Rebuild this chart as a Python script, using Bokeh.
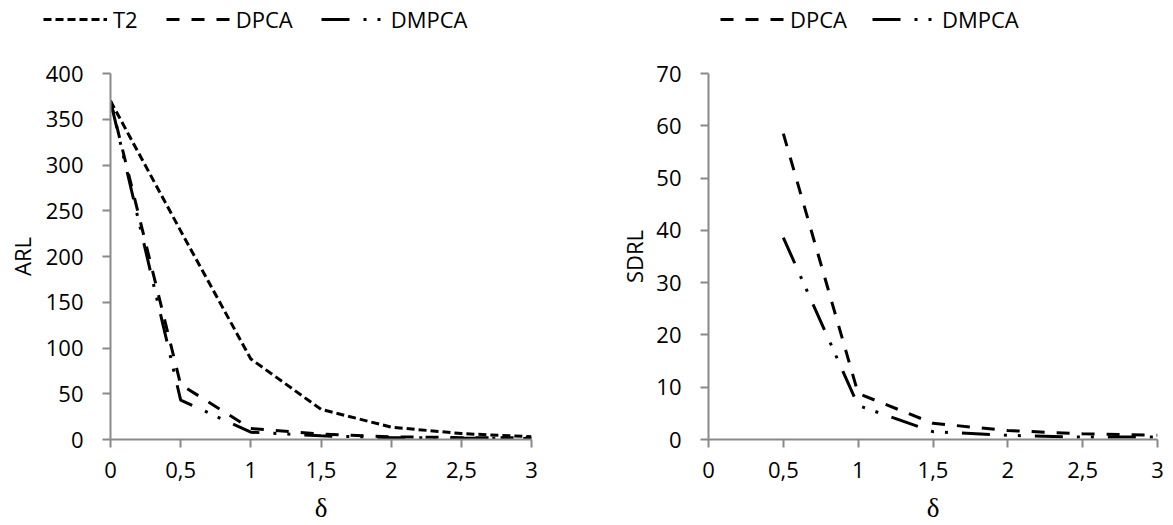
from bokeh.plotting import figure
from bokeh.layouts import row, column
from bokeh.models import Range1d, FixedTicker, Legend, LegendItem
from bokeh.embed import file_html
from bokeh.resources import INLINE

# ---- data ----
delta = [0, 0.5, 1, 1.5, 2, 2.5, 3]
arl_t2 = [370, 228, 88, 33, 13.5, 6.5, 3]
arl_dpca = [370, 60, 12, 6, 3, 2, 2]
arl_dmpca = [370, 43, 8, 4, 2, 1.5, 1]

delta_sd = [0.5, 1, 1.5, 2, 2.5, 3]
sdrl_dpca = [58.5, 8.8, 3.1, 1.7, 1.1, 0.8]
sdrl_dmpca = [38.6, 6.5, 1.5, 0.8, 0.45, 0.5]

x_ticks = [0, 0.5, 1, 1.5, 2, 2.5, 3]
x_tick_labels = ["0", "0,5", "1", "1,5", "2", "2,5", "3"]
arl_ticks = [0, 50, 100, 150, 200, 250, 300, 350, 400]
sdrl_ticks = [0, 10, 20, 30, 40, 50, 60, 70]

FONT = "Open Sans"
AX = "#898989"
T2_DASH = "8 4"
DPCA_DASH = "13 12"
DMPCA_DASH = "28 14 3 11 3 14"
LW = 3


def style(p, yticks, ylabel, ylab_standoff):
    p.xaxis.ticker = FixedTicker(ticks=x_ticks)
    p.xaxis.major_label_overrides = {t: l for t, l in zip(x_ticks, x_tick_labels)}
    p.yaxis.ticker = FixedTicker(ticks=yticks)
    for ax in (p.xaxis, p.yaxis):
        ax.axis_line_color = AX
        ax.axis_line_width = 2
        ax.major_tick_line_color = AX
        ax.major_tick_line_width = 2
        ax.major_tick_in = 0
        ax.major_tick_out = 8
        ax.minor_tick_line_color = None
        ax.major_label_text_font = FONT
        ax.major_label_text_font_size = "22px"
        ax.major_label_text_color = "black"
    p.yaxis.major_label_standoff = 19
    p.xaxis.major_label_standoff = 14
    p.yaxis.axis_label = ylabel
    p.yaxis.axis_label_text_font = FONT
    p.yaxis.axis_label_text_font_size = "22px"
    p.yaxis.axis_label_text_font_style = "normal"
    p.yaxis.axis_label_text_color = "black"
    p.yaxis.axis_label_standoff = ylab_standoff
    p.xaxis.axis_label = "δ"
    p.xaxis.axis_label_text_font = "Liberation Serif"
    p.xaxis.axis_label_text_font_size = "27px"
    p.xaxis.axis_label_text_font_style = "normal"
    p.xaxis.axis_label_text_color = "black"
    p.xaxis.axis_label_standoff = 12
    p.grid.visible = False
    p.outline_line_color = None
    p.background_fill_color = "white"
    p.border_fill_color = "white"


# ---- left: ARL ----
p1 = figure(width=590, height=485, output_backend="svg", toolbar_location=None,
            x_range=Range1d(0, 3), y_range=Range1d(0, 400),
            min_border_left=110, min_border_right=59, min_border_top=33, min_border_bottom=86)
style(p1, arl_ticks, "ARL", 6)
p1.line(delta, arl_t2, line_color="black", line_width=LW, line_dash=T2_DASH)
p1.line(delta, arl_dpca, line_color="black", line_width=LW, line_dash=DPCA_DASH)
p1.line(delta, arl_dmpca, line_color="black", line_width=LW, line_dash=DMPCA_DASH)

# ---- right: SDRL ----
p2 = figure(width=583, height=485, output_backend="svg", toolbar_location=None,
            x_range=Range1d(0, 3), y_range=Range1d(0, 70),
            min_border_left=118, min_border_right=16, min_border_top=33, min_border_bottom=86)
style(p2, sdrl_ticks, "SDRL", 4)
p2.line(delta_sd, sdrl_dpca, line_color="black", line_width=LW, line_dash=DPCA_DASH)
p2.line(delta_sd, sdrl_dmpca, line_color="black", line_width=LW, line_dash=DMPCA_DASH)

# ---- legend strip (series drawn out of view; only the legend shows) ----
pl = figure(width=1173, height=40, output_backend="svg", toolbar_location=None,
            x_range=Range1d(0, 1), y_range=Range1d(5000, 5001),
            x_axis_type=None, y_axis_type=None,
            min_border_left=0, min_border_right=0, min_border_top=0, min_border_bottom=0)
pl.grid.visible = False
pl.outline_line_color = None
e_t2 = pl.line(delta, arl_t2, line_color="black", line_width=LW, line_dash=T2_DASH)
e_dpca = pl.line(delta, arl_dpca, line_color="black", line_width=LW, line_dash=DPCA_DASH)
e_dmpca = pl.line(delta, arl_dmpca, line_color="black", line_width=LW, line_dash=DMPCA_DASH)

legend_kw = dict(orientation="horizontal", glyph_width=64, glyph_height=20,
                 label_standoff=6, padding=0, margin=0,
                 border_line_alpha=0, background_fill_alpha=0,
                 label_text_font=FONT, label_text_font_size="22px",
                 label_text_color="black")
leg1 = Legend(items=[LegendItem(label="T2", renderers=[e_t2]),
                     LegendItem(label="DPCA", renderers=[e_dpca]),
                     LegendItem(label="DMPCA", renderers=[e_dmpca])],
              location=(43, 6), spacing=28, **legend_kw)
leg2 = Legend(items=[LegendItem(label="DPCA", renderers=[e_dpca]),
                     LegendItem(label="DMPCA", renderers=[e_dmpca])],
              location=(720, 6), spacing=25, **legend_kw)
pl.add_layout(leg1, "center")
pl.add_layout(leg2, "center")

layout = column(pl, row(p1, p2), spacing=0)
open("out.html", "w").write(file_html(layout, INLINE))
